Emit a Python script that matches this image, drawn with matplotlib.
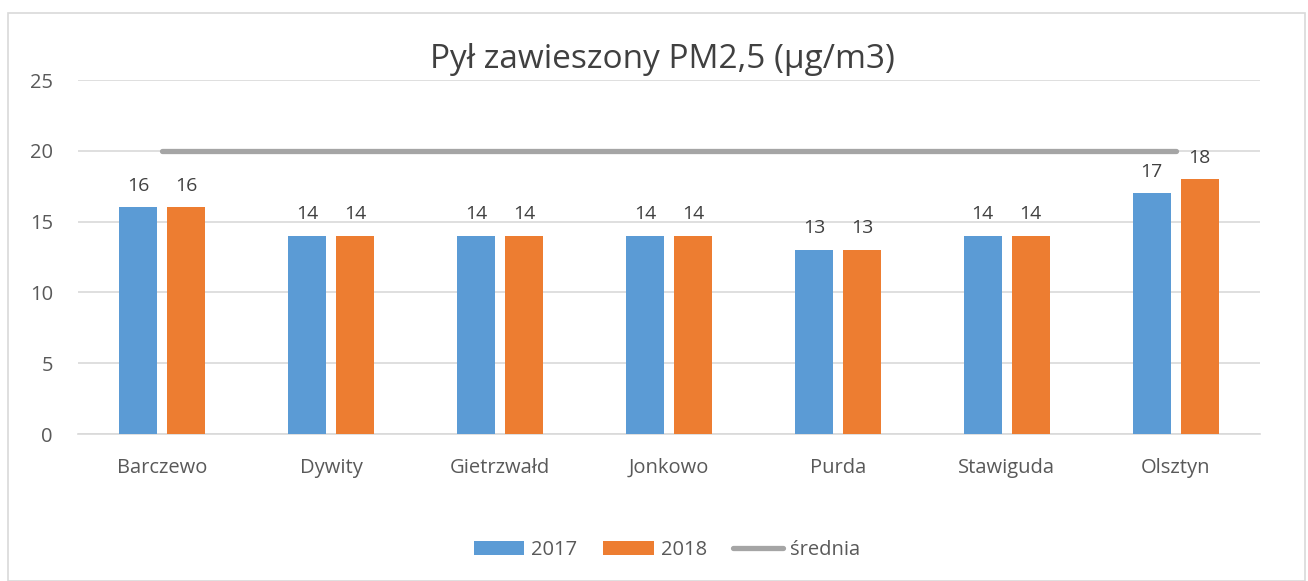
import matplotlib
matplotlib.use("Agg")
import matplotlib.pyplot as plt
import numpy as np
from matplotlib.patches import Rectangle

categories = ["Barczewo", "Dywity", "Gietrzwałd", "Jonkowo", "Purda", "Stawiguda", "Olsztyn"]
values_2017 = [16, 14, 14, 14, 13, 14, 17]
values_2018 = [16, 14, 14, 14, 13, 14, 18]
srednia = [20, 20, 20, 20, 20, 20, 20]
title = "Pył zawieszony PM2,5 (µg/m3)"

plt.rcParams['font.family'] = ['Open Sans', 'DejaVu Sans']

fig = plt.figure(figsize=(13.08, 5.81), dpi=100)
ax = fig.add_axes([78/1308, 1-434/581, (1260-78)/1308, (434-80)/581])

x = np.arange(len(categories))
w = 0.225
off = 0.142
c17 = "#5B9BD5"
c18 = "#ED7D31"
cl = "#A5A5A5"

b1 = ax.bar(x - off, values_2017, w, color=c17, label="2017", zorder=3)
b2 = ax.bar(x + off, values_2018, w, color=c18, label="2018", zorder=3)
ln, = ax.plot(x, srednia, color=cl, lw=3.8, solid_capstyle='round', label="średnia", zorder=4)

for rects, vals in ((b1, values_2017), (b2, values_2018)):
    for r, v in zip(rects, vals):
        ax.annotate(str(v), (r.get_x() + r.get_width()/2, v), xytext=(0, 9),
                    textcoords="offset points", ha="center", va="bottom",
                    fontsize=14, color="#404040")

ax.set_xlim(-0.5, len(categories) - 0.5)
ax.set_ylim(0, 25)
ax.set_yticks([0, 5, 10, 15, 20, 25])
ax.set_xticks(x)
ax.set_xticklabels(categories)
ax.tick_params(axis='both', length=0, labelsize=14.5, colors="#595959")
ax.tick_params(axis='x', pad=17)
ax.tick_params(axis='y', pad=18)
ax.grid(axis='y', color="#D9D9D9", lw=1.2, zorder=0)
for s in ["top", "right", "left"]:
    ax.spines[s].set_visible(False)
ax.spines["bottom"].set_color("#D9D9D9")
ax.spines["bottom"].set_linewidth(1.2)

fig.text(662/1308, 1-60/581, title, ha="center", va="center", fontsize=24, color="#404040")

leg = fig.legend(handles=[b1, b2, ln], loc="center", bbox_to_anchor=(667/1308, 1-550/581),
                 ncol=3, frameon=False, fontsize=14.5, handlelength=2.5, handleheight=0.7,
                 columnspacing=1.3, handletextpad=0.35)
for t in leg.get_texts():
    t.set_color("#595959")

fig.patches.append(Rectangle((8/1308, 0), (1305-8)/1308, 1-13/581, transform=fig.transFigure,
                             fill=False, edgecolor="#D9D9D9", lw=1.2))

fig.savefig("out.png", dpi=100)
